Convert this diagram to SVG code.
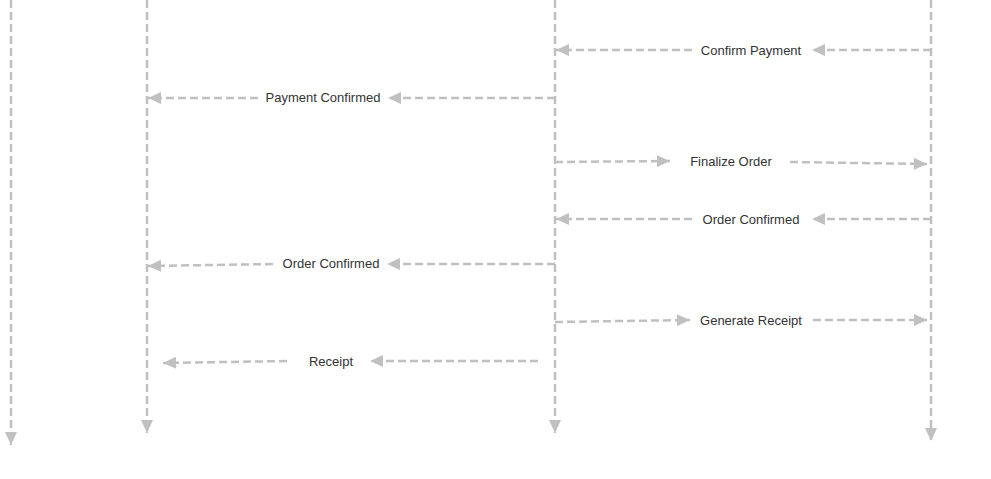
<svg xmlns="http://www.w3.org/2000/svg" width="991" height="479" viewBox="0 0 991 479">
<defs>
<marker id="ah" markerUnits="userSpaceOnUse" markerWidth="13" markerHeight="12" refX="13" refY="6" orient="auto">
<path d="M0,0 L13,6 L0,12 z" fill="#c0c0c0"/>
</marker>
<style>
.ln{fill:none;stroke:#c0c0c0;stroke-width:2.5;stroke-dasharray:8 4;marker-end:url(#ah)}
.lb{font-family:"Liberation Sans",Arial,sans-serif;font-size:13px;fill:#333;text-anchor:middle}
</style>
</defs>
<rect width="991" height="479" fill="#fff"/>
<g id="lifelines">
<path class="ln" d="M11,0 L11,445"/>
<path class="ln" d="M147,0 L147,433"/>
<path class="ln" d="M555,0 L555,433"/>
<path class="ln" d="M931,0 L931,441"/>
</g>
<g id="connectors">
<path class="ln" d="M931,50 L812,50"/>
<path class="ln" d="M692,50 L556,50"/>
<path class="ln" d="M555,98 L388,98"/>
<path class="ln" d="M258,98 L148,98"/>
<path class="ln" d="M555,162 L670,161"/>
<path class="ln" d="M790,162 L927,164"/>
<path class="ln" d="M931,219 L812,219"/>
<path class="ln" d="M692,219 L556,219"/>
<path class="ln" d="M555,264 L387,264"/>
<path class="ln" d="M273,264 L148,266"/>
<path class="ln" d="M555,322 L690,320"/>
<path class="ln" d="M813,320 L927,320"/>
<path class="ln" d="M538,361 L370,361"/>
<path class="ln" d="M287,361 L163,363"/>
</g>
<g id="m1"><text class="lb" x="751" y="55">Confirm Payment</text></g>
<g id="m2"><text class="lb" x="323" y="102">Payment Confirmed</text></g>
<g id="m3"><text class="lb" x="731" y="166">Finalize Order</text></g>
<g id="m4"><text class="lb" x="751" y="224">Order Confirmed</text></g>
<g id="m5"><text class="lb" x="331" y="268">Order Confirmed</text></g>
<g id="m6"><text class="lb" x="751" y="325">Generate Receipt</text></g>
<g id="m7"><text class="lb" x="331" y="366">Receipt</text></g>
</svg>
